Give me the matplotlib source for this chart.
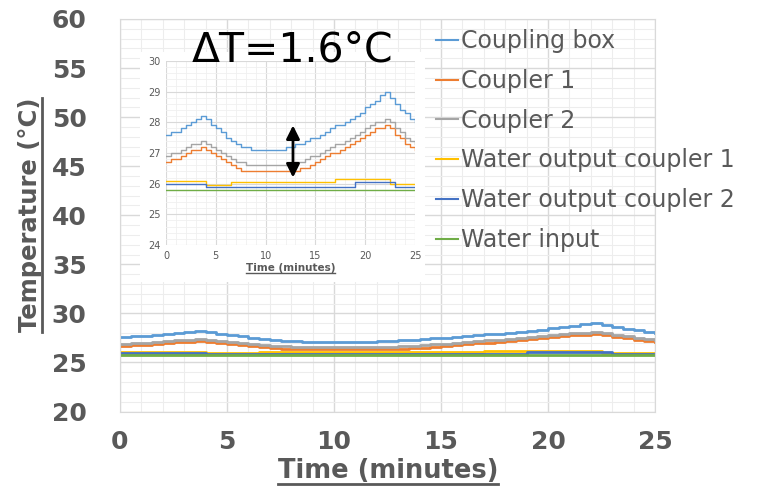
import numpy as np
import matplotlib.pyplot as plt
from matplotlib.lines import Line2D
from matplotlib.patches import Rectangle
from matplotlib.ticker import MultipleLocator

# time axis (minutes), sampled every half minute
time_min = [i * 0.5 for i in range(51)]

coupling_box = [27.6, 27.7, 27.7, 27.8, 27.9, 28.0, 28.1, 28.2, 28.1, 27.9,
                27.8, 27.7, 27.5, 27.4, 27.3, 27.2, 27.2, 27.1, 27.1, 27.1,
                27.1, 27.1, 27.1, 27.1, 27.2, 27.2, 27.3, 27.3, 27.4, 27.5,
                27.5, 27.6, 27.7, 27.8, 27.9, 27.9, 28.0, 28.1, 28.2, 28.3,
                28.5, 28.6, 28.7, 28.9, 29.0, 28.8, 28.6, 28.4, 28.3, 28.1,
                28.0]
coupler_1 = [26.7, 26.8, 26.8, 26.9, 27.0, 27.1, 27.1, 27.2, 27.1, 27.0,
             26.9, 26.8, 26.7, 26.6, 26.5, 26.4, 26.4, 26.4, 26.4, 26.4,
             26.4, 26.4, 26.4, 26.4, 26.4, 26.4, 26.4, 26.5, 26.5, 26.6,
             26.7, 26.8, 26.9, 27.0, 27.0, 27.1, 27.2, 27.3, 27.4, 27.5,
             27.6, 27.7, 27.8, 27.8, 27.9, 27.8, 27.6, 27.5, 27.3, 27.2,
             27.1]
coupler_2 = [26.9, 27.0, 27.0, 27.1, 27.2, 27.3, 27.3, 27.4, 27.3, 27.2,
             27.1, 27.0, 26.9, 26.8, 26.7, 26.7, 26.6, 26.6, 26.6, 26.6,
             26.6, 26.6, 26.6, 26.6, 26.6, 26.6, 26.7, 26.7, 26.8, 26.9,
             26.9, 27.0, 27.1, 27.2, 27.3, 27.3, 27.4, 27.5, 27.6, 27.7,
             27.8, 27.9, 28.0, 28.0, 28.1, 28.0, 27.8, 27.7, 27.5, 27.4,
             27.3]
water_out_1 = [26.1] * 8 + [25.95] * 5 + [26.05] * 21 + [26.15] * 11 + [26.0] * 6
water_out_2 = [26.0] * 8 + [25.9] * 30 + [26.05] * 8 + [25.9] * 5
water_input = [25.8] * 51

series = [
    ("Coupling box", coupling_box, "#5B9BD5"),
    ("Coupler 1", coupler_1, "#ED7D31"),
    ("Coupler 2", coupler_2, "#A5A5A5"),
    ("Water output coupler 1", water_out_1, "#FFC000"),
    ("Water output coupler 2", water_out_2, "#4472C4"),
    ("Water input", water_input, "#70AD47"),
]

delta_label = "\u0394T=1.6\u00b0C"
arrow_x = 12.75
arrow_y = (26.2, 27.9)

grey = "#595959"

fig = plt.figure(figsize=(7.61, 4.92), dpi=100)

# main chart
ax = fig.add_axes([120 / 761, 1 - 411.5 / 492, 535 / 761, 392.5 / 492])
for name, vals, col in series:
    ax.plot(time_min, vals, color=col, lw=2, drawstyle="steps-post", label=name)
ax.set_xlim(0, 25)
ax.set_ylim(20, 60)
ax.xaxis.set_major_locator(MultipleLocator(5))
ax.yaxis.set_major_locator(MultipleLocator(5))
ax.xaxis.set_minor_locator(MultipleLocator(1))
ax.yaxis.set_minor_locator(MultipleLocator(1))
ax.grid(which="major", color="#D9D9D9", lw=1)
ax.grid(which="minor", color="#EDEDED", lw=0.8)
ax.set_axisbelow(True)
ax.tick_params(which="both", length=0)
ax.tick_params(axis="y", pad=24, labelsize=18, labelcolor=grey)
ax.tick_params(axis="x", pad=13, labelsize=18, labelcolor=grey)
for lab in ax.get_xticklabels() + ax.get_yticklabels():
    lab.set_fontweight("bold")
for sp in ax.spines.values():
    sp.set_color("#D9D9D9")

ylab = fig.text(30 / 761, 1 - 215 / 492, "Temperature (\u00b0C)", rotation=90,
                ha="center", va="center", fontsize=17.5, fontweight="bold", color=grey)
xlab = fig.text(388 / 761, 1 - 471 / 492, "Time (minutes)", ha="center", va="center",
                fontsize=18.5, fontweight="bold", color=grey)

leg = ax.legend(loc="upper left", bbox_to_anchor=(436 / 761, 1 - 29 / 492),
                bbox_transform=fig.transFigure, frameon=False, fontsize=17,
                handlelength=0.95, handletextpad=0.1, labelspacing=0.67, borderaxespad=0,
                borderpad=0)
for t in leg.get_texts():
    t.set_color(grey)
for h in leg.get_lines():
    h.set_linewidth(1.5)

# white panel behind inset
panel = Rectangle((140 / 761, 1 - 282 / 492), 285 / 761, 230 / 492,
                  transform=fig.transFigure, facecolor="white", edgecolor="none", zorder=0.5)
fig.add_artist(panel)

axi = fig.add_axes([166 / 761, 1 - 245 / 492, 249 / 761, 184 / 492], zorder=1)
for name, vals, col in series:
    axi.plot(time_min, vals, color=col, lw=1, drawstyle="steps-post")
axi.set_xlim(0, 25)
axi.set_ylim(24, 30)
axi.xaxis.set_major_locator(MultipleLocator(5))
axi.yaxis.set_major_locator(MultipleLocator(1))
axi.xaxis.set_minor_locator(MultipleLocator(1))
axi.yaxis.set_minor_locator(MultipleLocator(0.2))
axi.grid(which="major", color="#D9D9D9", lw=0.8)
axi.grid(which="minor", color="#F0F0F0", lw=0.6)
axi.set_axisbelow(True)
axi.tick_params(which="both", length=0, labelsize=7, labelcolor=grey, pad=4)
for sp in axi.spines.values():
    sp.set_visible(False)
ilab = axi.set_xlabel("Time (minutes)", fontsize=7.5, fontweight="bold", color=grey, labelpad=2)

axi.annotate("", xy=(arrow_x, arrow_y[1]), xytext=(arrow_x, arrow_y[0]),
             arrowprops=dict(arrowstyle="<|-|>", color="black", lw=2, mutation_scale=20,
                             shrinkA=0, shrinkB=0))

fig.text(292 / 761, 1 - 51 / 492, delta_label, ha="center", va="center",
         fontsize=29.5, color="black", zorder=5)

# underline the axis titles
fig.canvas.draw()
r = fig.canvas.get_renderer()
inv = fig.transFigure.inverted()
for t, vertical in [(ylab, True), (xlab, False), (ilab, False)]:
    bb = t.get_window_extent(r).transformed(inv)
    lw = 1.0 if t is ilab else 2.0
    if vertical:
        fig.add_artist(Line2D([bb.x1, bb.x1], [bb.y0, bb.y1], color=grey, lw=lw))
    else:
        fig.add_artist(Line2D([bb.x0, bb.x1], [bb.y0, bb.y0], color=grey, lw=lw, zorder=3))

fig.savefig("out.png", dpi=100)
